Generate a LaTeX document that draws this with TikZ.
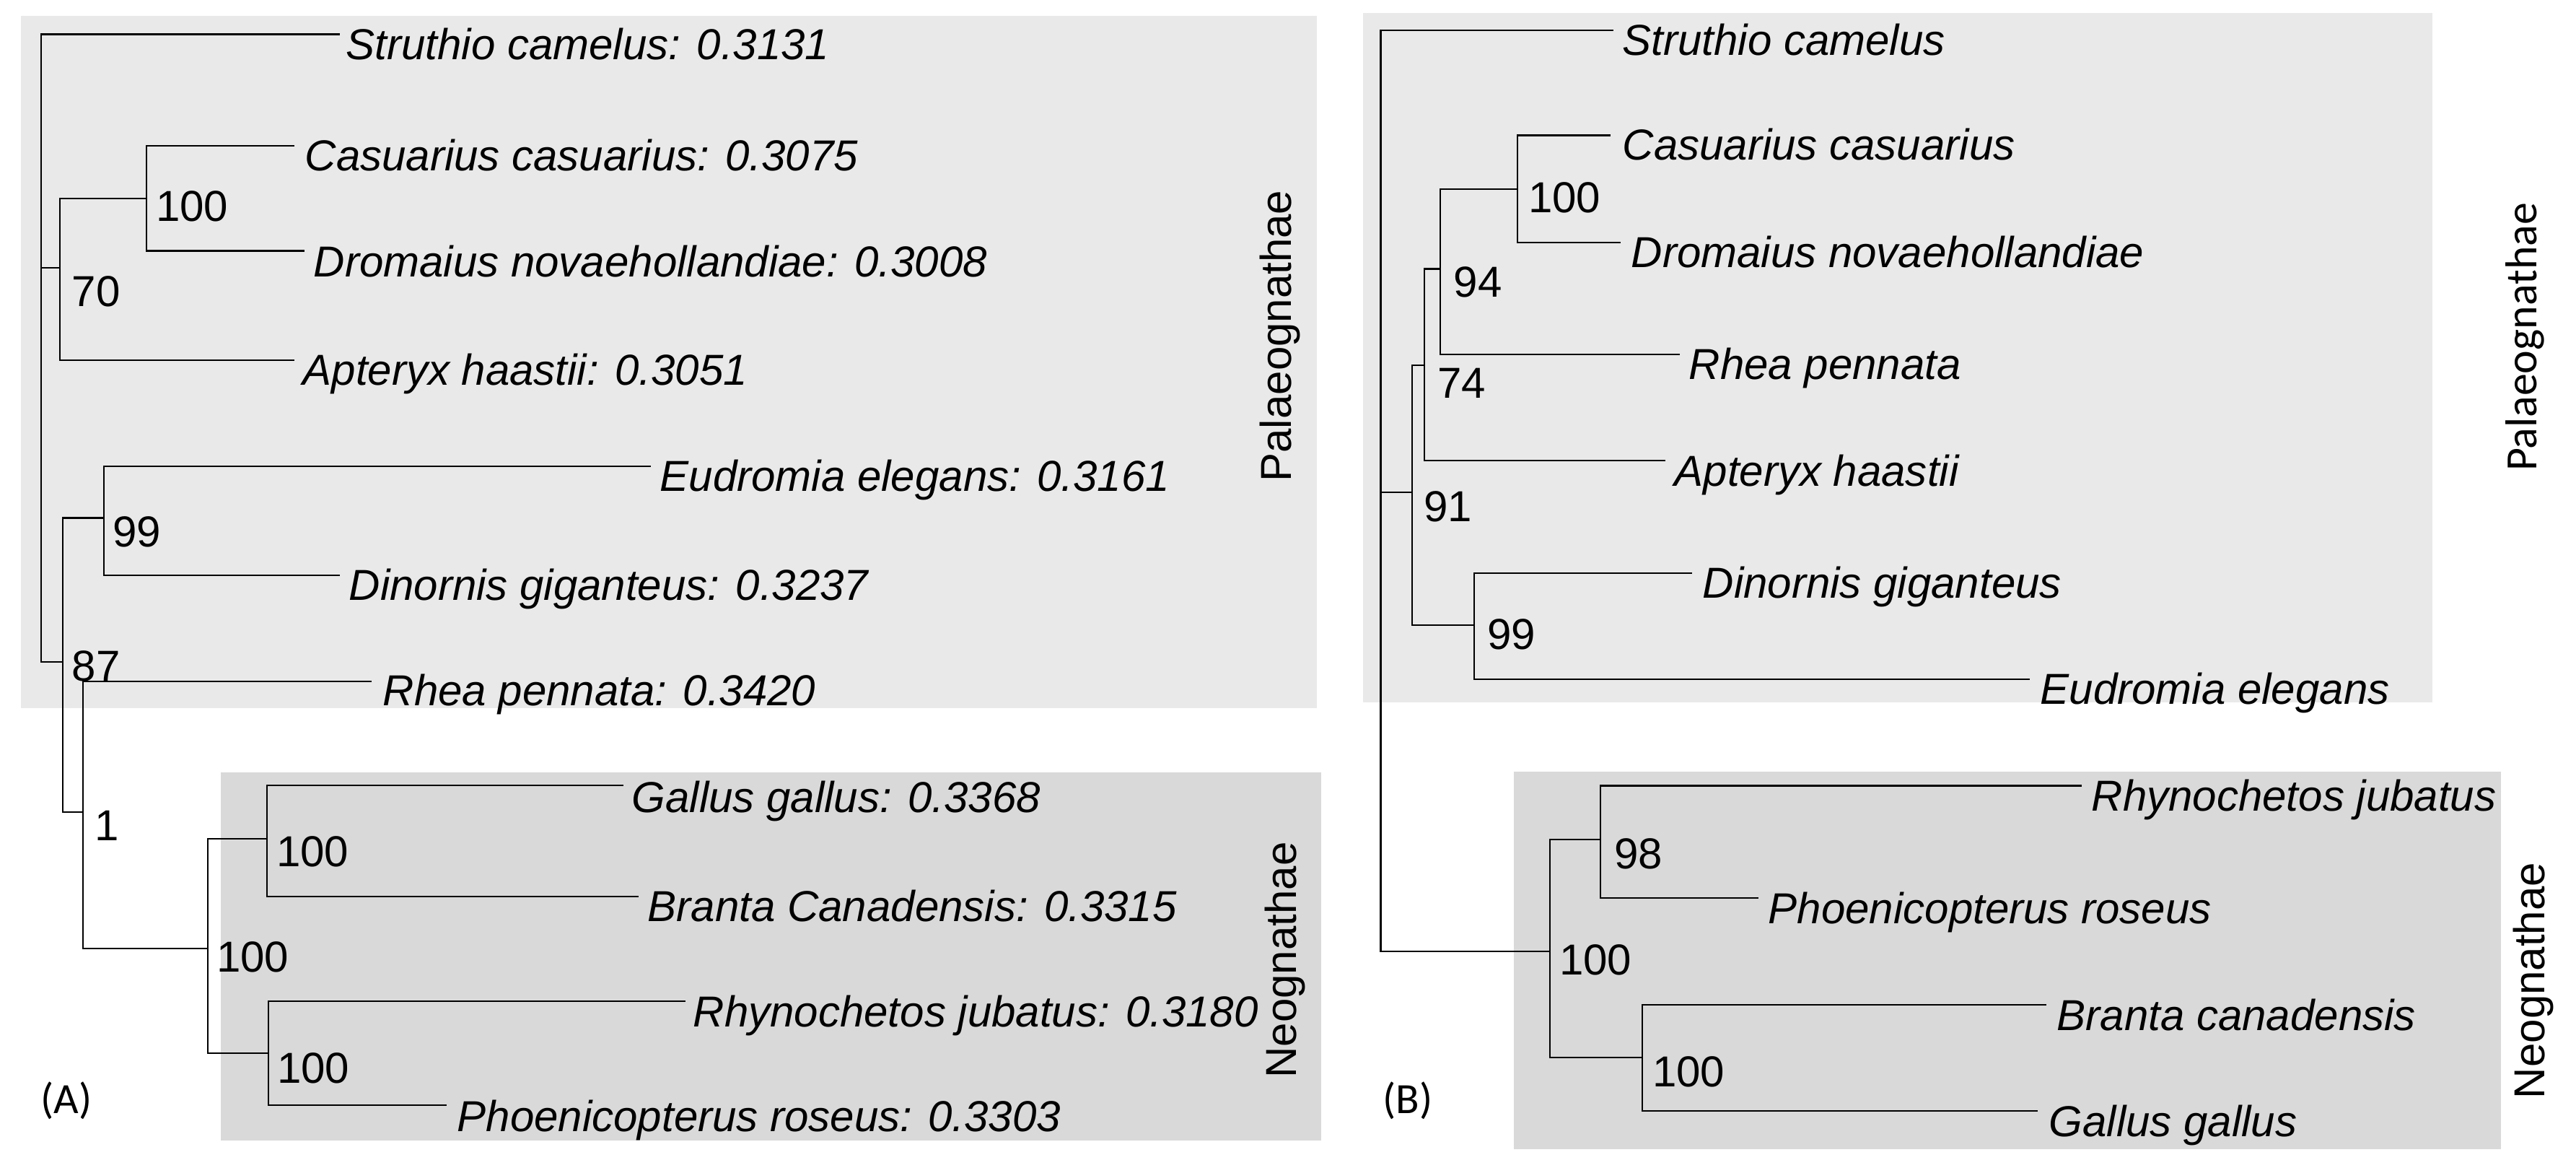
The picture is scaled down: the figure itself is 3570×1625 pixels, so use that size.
\documentclass[tikz,border=0pt]{standalone}
\usepackage{fontspec}
\setmainfont{Liberation Sans}
\newfontfamily\calib{Carlito}
\begin{document}
\begin{tikzpicture}[x=0.01cm,y=-0.01cm,
  br/.style={line width=0.6pt, black},
  leaf/.style={anchor=base west, inner sep=0pt, font=\fontsize{17.07pt}{20pt}\selectfont\itshape},
  num/.style={anchor=base west, inner sep=0pt, font=\fontsize{17.07pt}{20pt}\selectfont},
  clade/.style={anchor=base, inner sep=0pt, rotate=90, font=\fontsize{17.07pt}{20pt}\selectfont},
  cladeB/.style={anchor=base, inner sep=0pt, rotate=90, font=\calib\fontsize{17.6pt}{20pt}\selectfont},
  panel/.style={anchor=base west, inner sep=0pt, font=\calib\fontsize{17pt}{20pt}\selectfont}]
\definecolor{palaeo}{RGB}{233,233,233}
\definecolor{neo}{RGB}{217,217,217}
\useasboundingbox (0,0) rectangle (3570,1625);
% background panels
\fill[palaeo] (29,22) rectangle (1825,981);
\fill[neo] (306,1070) rectangle (1831,1580);
\fill[palaeo] (1889,18) rectangle (3371,973);
\fill[neo] (2098,1069) rectangle (3466,1592);

% ================= Panel A =================
\coordinate (rA) at (57,482);
\coordinate (n70) at (83,371);
\coordinate (n100a) at (203,275);
\coordinate (n87) at (87,917);
\coordinate (n99a) at (144,717.5);
\coordinate (n1) at (115,1125);
\coordinate (nNeoA) at (288,1314);
\coordinate (n100b) at (370,1162);
\coordinate (n100c) at (372,1459);
% leaf ends
\coordinate (eStrA) at (471,47.5);
\coordinate (eCasA) at (408,202);
\coordinate (eDroA) at (422,347.5);
\coordinate (eAptA) at (408,499);
\coordinate (eEudA) at (902,646);
\coordinate (eDinA) at (471,797);
\coordinate (eRheA) at (515,943.6);
\coordinate (eGalA) at (864,1088);
\coordinate (eBraA) at (885,1242);
\coordinate (eRhyA) at (950,1387);
\coordinate (ePhoA) at (619,1531);

\draw[br] (rA) |- (eStrA);
\draw[br] (rA) |- (n70);
\draw[br] (rA) |- (n87);
\draw[br] (n70) |- (n100a);
\draw[br] (n70) |- (eAptA);
\draw[br] (n100a) |- (eCasA);
\draw[br] (n100a) |- (eDroA);
\draw[br] (n87) |- (n99a);
\draw[br] (n87) |- (n1);
\draw[br] (n99a) |- (eEudA);
\draw[br] (n99a) |- (eDinA);
\draw[br] (n1) |- (eRheA);
\draw[br] (n1) |- (nNeoA);
\draw[br] (nNeoA) |- (n100b);
\draw[br] (nNeoA) |- (n100c);
\draw[br] (n100b) |- (eGalA);
\draw[br] (n100b) |- (eBraA);
\draw[br] (n100c) |- (eRhyA);
\draw[br] (n100c) |- (ePhoA);

\node[leaf] (tStrA) at (479,83) {Struthio camelus: 0.3131};
\node[leaf] (tCasA) at (422,237) {Casuarius casuarius: 0.3075};
\node[leaf] (tDroA) at (434,384) {Dromaius novaehollandiae: 0.3008};
\node[leaf] (tAptA) at (419,534) {Apteryx haastii: 0.3051};
\node[leaf] (tEudA) at (914,680) {Eudromia elegans: 0.3161};
\node[leaf] (tDinA) at (483,831) {Dinornis giganteus: 0.3237};
\node[leaf] (tRheA) at (530,977) {Rhea pennata: 0.3420};
\node[leaf] (tGalA) at (875,1125) {Gallus gallus: 0.3368};
\node[leaf] (tBraA) at (897,1276) {Branta Canadensis: 0.3315};
\node[leaf] (tRhyA) at (960,1422) {Rhynochetos jubatus: 0.3180};
\node[leaf] (tPhoA) at (633,1567) {Phoenicopterus roseus: 0.3303};

\node[num] (l100a) at (215.5,307) {100};
\node[num] (l70) at (99,425) {70};
\node[num] (l99a) at (155.5,758) {99};
\node[num] (l87) at (99,943) {87};
\node[num] (l1) at (130.5,1164) {1};
\node[num] (lNeoA) at (299.5,1346) {100};
\node[num] (l100b) at (382.5,1200) {100};
\node[num] (l100c) at (383.5,1500) {100};

\node[clade] (cPalA) at (1789,465.5) {Palaeognathae};
\node[clade] (cNeoA) at (1796,1330) {Neognathae};
\node[panel] (pA) at (56,1542) {(A)};

% ================= Panel B =================
\coordinate (rB) at (1913.5,680);
\coordinate (n91) at (1957,682);
\coordinate (n74) at (1974,506);
\coordinate (n94) at (1996,372.5);
\coordinate (n100d) at (2103,262);
\coordinate (n99b) at (2043,866);
\coordinate (nNeoB) at (2148,1318);
\coordinate (n98) at (2218,1163);
\coordinate (n100e) at (2276,1465);
% leaf ends
\coordinate (eStrB) at (2236,42);
\coordinate (eCasB) at (2232,187.5);
\coordinate (eDroB) at (2246,336);
\coordinate (eRheB) at (2328,491);
\coordinate (eAptB) at (2308,638);
\coordinate (eDinB) at (2345,793.6);
\coordinate (eEudB) at (2813,940.7);
\coordinate (eRhyB) at (2885,1088.5);
\coordinate (ePhoB) at (2436.5,1244);
\coordinate (eBraB) at (2836,1392);
\coordinate (eGalB) at (2824,1539);

\draw[br] (rB) |- (eStrB);
\draw[br] (rB) |- (n91);
\draw[br] (rB) |- (nNeoB);
\draw[br] (n91) |- (n74);
\draw[br] (n91) |- (n99b);
\draw[br] (n74) |- (n94);
\draw[br] (n74) |- (eAptB);
\draw[br] (n94) |- (n100d);
\draw[br] (n94) |- (eRheB);
\draw[br] (n100d) |- (eCasB);
\draw[br] (n100d) |- (eDroB);
\draw[br] (n99b) |- (eDinB);
\draw[br] (n99b) |- (eEudB);
\draw[br] (nNeoB) |- (n98);
\draw[br] (nNeoB) |- (n100e);
\draw[br] (n98) |- (eRhyB);
\draw[br] (n98) |- (ePhoB);
\draw[br] (n100e) |- (eBraB);
\draw[br] (n100e) |- (eGalB);

\node[leaf] (tStrB) at (2248,77) {Struthio camelus};
\node[leaf] (tCasB) at (2248,222) {Casuarius casuarius};
\node[leaf] (tDroB) at (2260,371) {Dromaius novaehollandiae};
\node[leaf] (tRheB) at (2340,526) {Rhea pennata};
\node[leaf] (tAptB) at (2320,673) {Apteryx haastii};
\node[leaf] (tDinB) at (2359,828) {Dinornis giganteus};
\node[leaf] (tEudB) at (2827,975) {Eudromia elegans};
\node[leaf] (tRhyB) at (2898,1123) {Rhynochetos jubatus};
\node[leaf] (tPhoB) at (2450,1279) {Phoenicopterus roseus};
\node[leaf] (tBraB) at (2850,1427) {Branta canadensis};
\node[leaf] (tGalB) at (2839,1574) {Gallus gallus};

\node[num] (l100d) at (2117.5,295) {100};
\node[num] (l94) at (2014,412) {94};
\node[num] (l74) at (1991.5,552) {74};
\node[num] (l91) at (1972.5,722) {91};
\node[num] (l99b) at (2060.5,899) {99};
\node[num] (l98) at (2236.5,1203) {98};
\node[num] (lNeoB) at (2160.5,1350) {100};
\node[num] (l100e) at (2289.5,1505) {100};

\node[cladeB] (cPalB) at (3515,467) {Palaeognathae};
\node[clade] (cNeoB) at (3526,1358.5) {Neognathae};
\node[panel] (pB) at (1916,1542) {(B)};
\end{tikzpicture}
\end{document}
